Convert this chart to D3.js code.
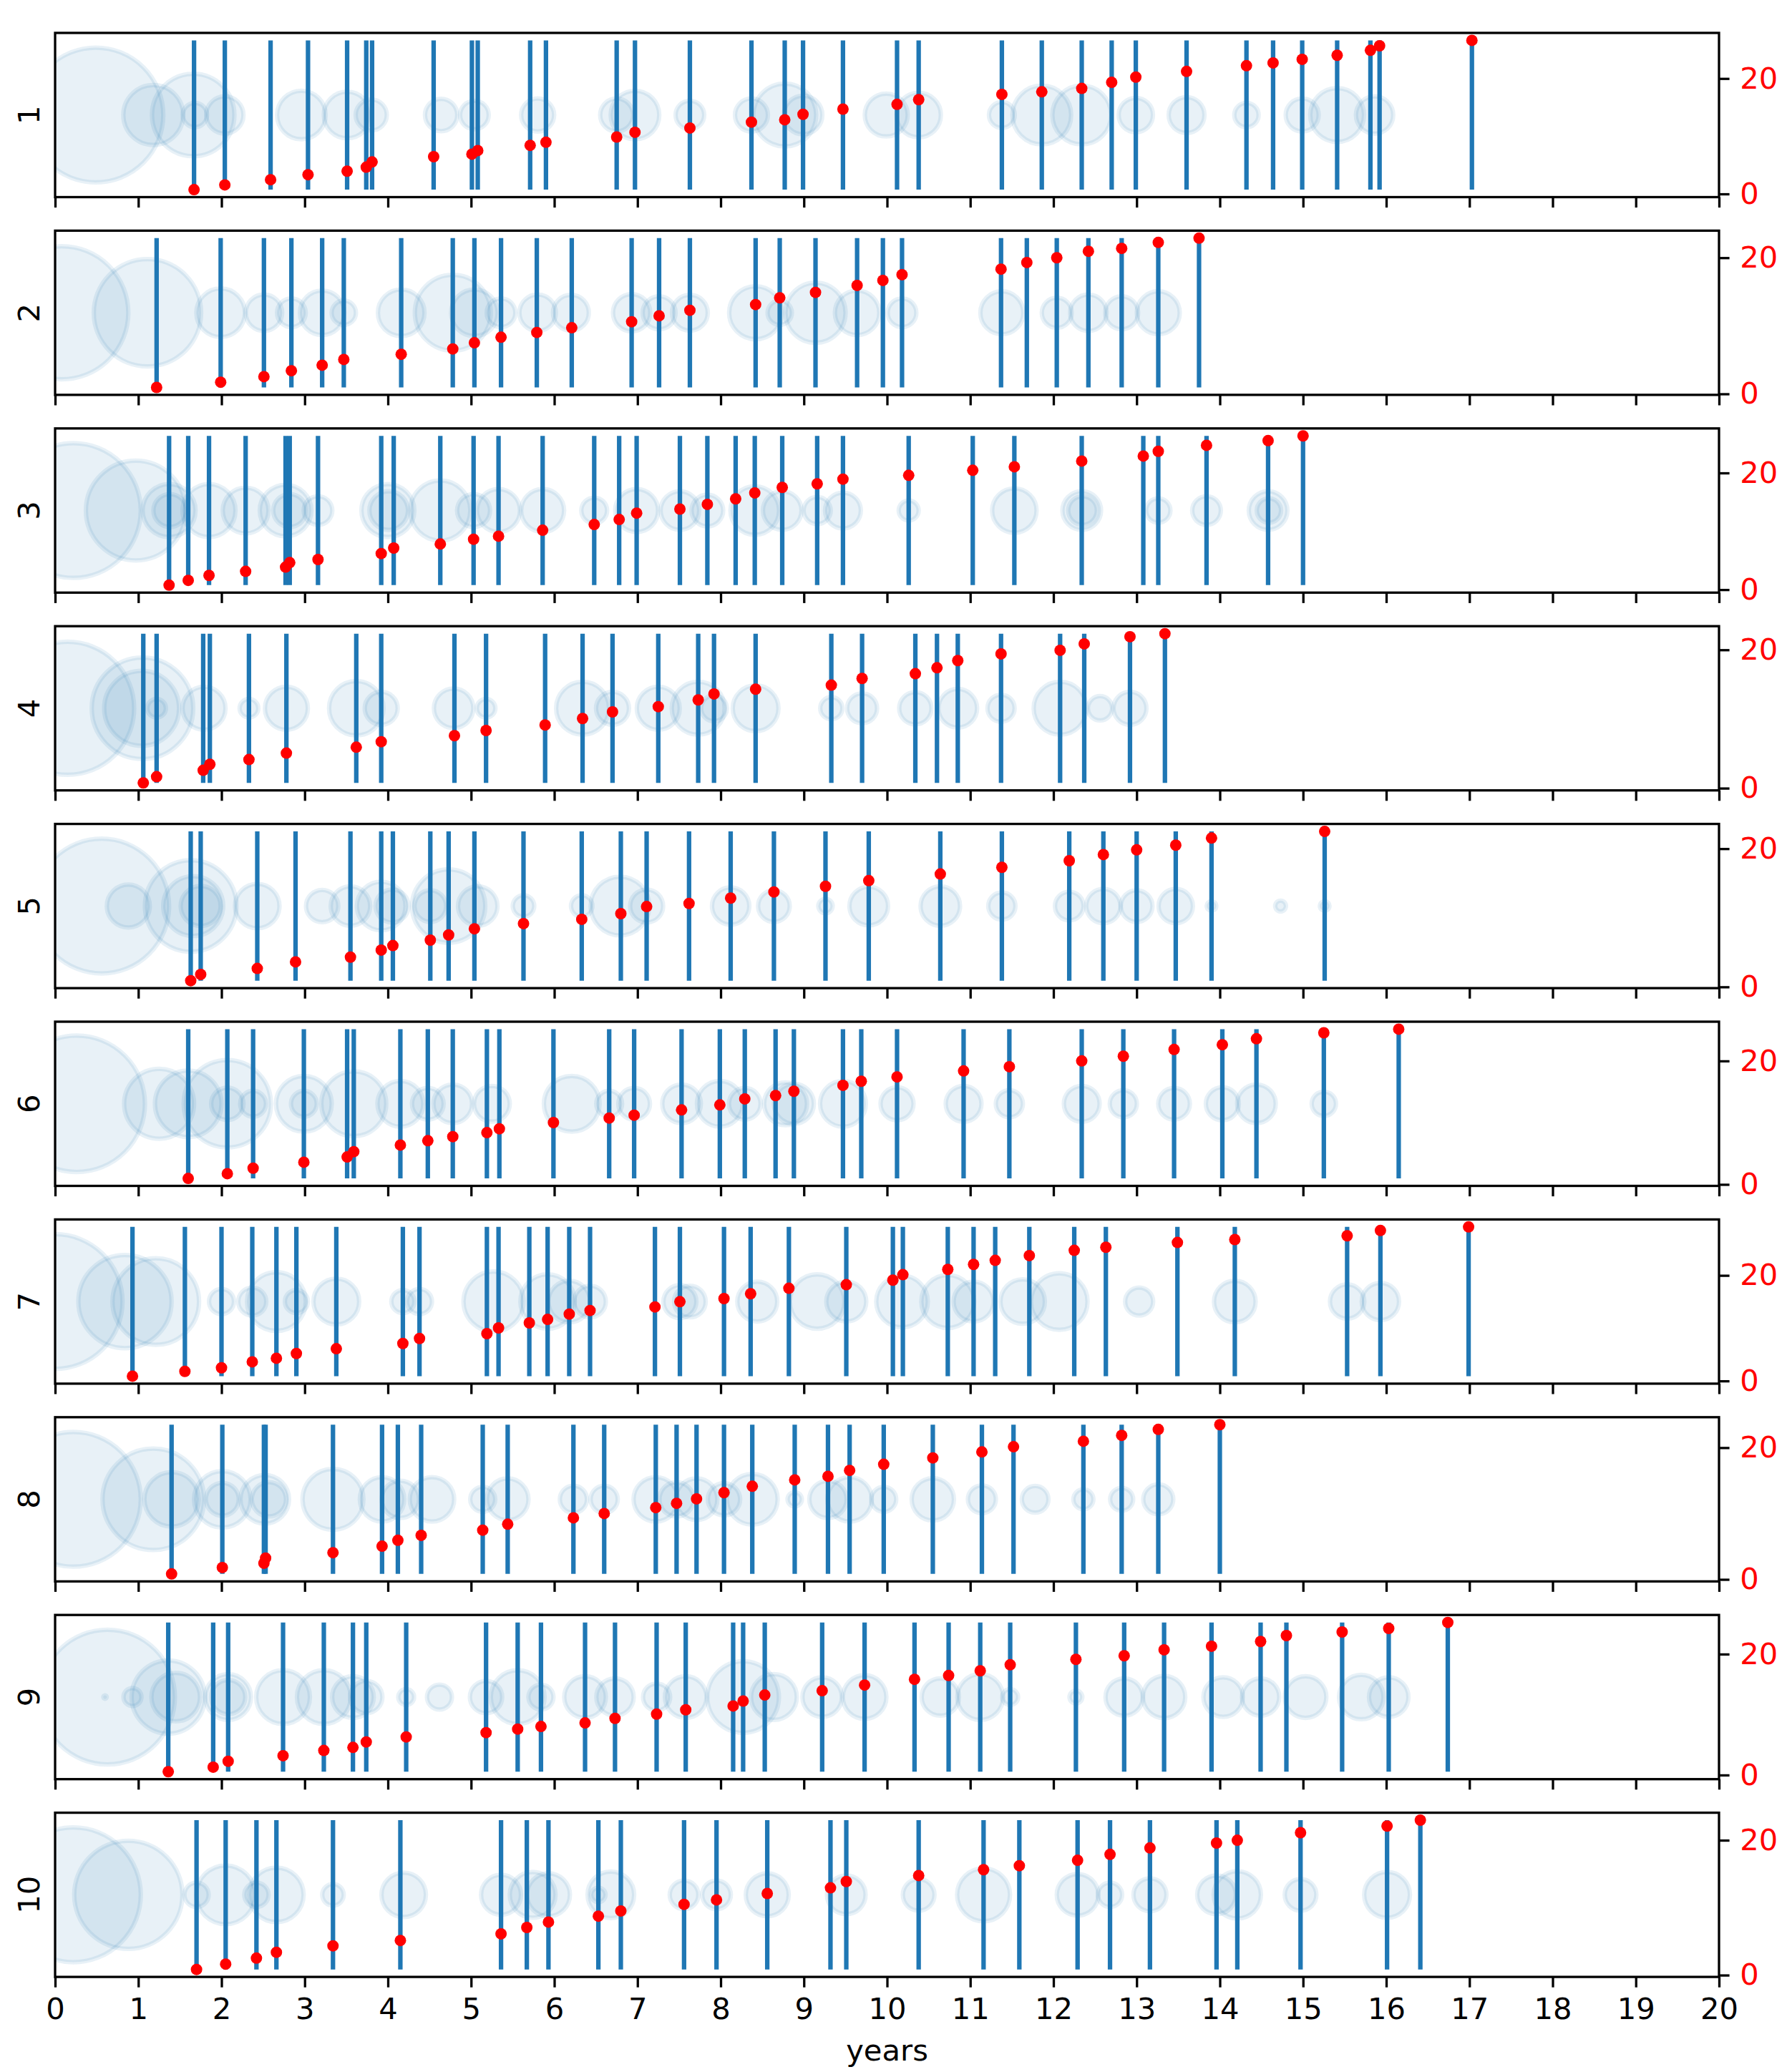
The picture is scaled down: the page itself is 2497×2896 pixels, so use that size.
<!DOCTYPE html>
<html><head><meta charset="utf-8">
<script src="https://cdn.jsdelivr.net/npm/d3@7"></script>
<style>body{margin:0;background:#fff} text{font-family:"DejaVu Sans",sans-serif}</style>
</head><body><svg id="c" width="2497" height="2896"></svg>
<script>
const xTicks = d3.range(0, 21);
const rightTicks = [0, 20];
const panelLabels = ["1","2","3","4","5","6","7","8","9","10"];
const xLabel = "years";

const times1 = [1.67,2.04,2.59,3.04,3.51,3.74,3.81,4.55,5.01,5.08,5.71,5.90,6.75,6.97,7.63,8.37,8.77,8.99,9.47,10.12,10.38,11.38,11.86,12.34,12.70,12.99,13.60,14.32,14.64,14.99,15.41,15.81,15.92,17.03];
const values1 = [0.74,1.56,2.46,3.33,3.94,4.64,5.54,6.45,6.90,7.52,8.42,8.95,9.86,10.68,11.42,12.44,12.85,13.80,14.70,15.52,16.34,17.25,17.70,18.28,19.34,20.25,21.23,22.22,22.71,23.33,24.03,24.89,25.67,26.61];
const bubbles1 = [[0.49,0.81],[1.18,0.36],[1.66,0.495],[1.68,0.146],[2.04,0.224],[2.96,0.292],[3.51,0.28],[3.80,0.187],[4.64,0.194],[5.04,0.172],[5.80,0.198],[6.75,0.198],[6.97,0.292],[7.63,0.172],[8.37,0.198],[8.77,0.378],[8.99,0.232],[9.99,0.258],[10.38,0.267],[11.38,0.155],[11.86,0.353],[12.34,0.353],[12.99,0.206],[13.60,0.215],[14.32,0.146],[14.99,0.198],[15.41,0.323],[15.86,0.224]];

const times2 = [1.22,1.99,2.51,2.84,3.21,3.47,4.16,4.78,5.04,5.36,5.79,6.21,6.93,7.26,7.63,8.42,8.71,9.14,9.64,9.95,10.18,11.37,11.68,12.04,12.42,12.82,13.26,13.75];
const values2 = [0.95,1.72,2.53,3.40,4.21,5.05,5.82,6.60,7.51,8.32,9.02,9.72,10.60,11.47,12.28,13.12,14.11,14.91,15.93,16.67,17.51,18.32,19.30,20.00,20.95,21.37,22.25,22.88];
const bubbles2 = [[0.08,0.80],[1.11,0.645],[1.99,0.292],[2.51,0.219],[2.84,0.172],[3.21,0.267],[3.47,0.146],[4.16,0.28],[4.78,0.456],[5.04,0.28],[5.36,0.172],[5.80,0.219],[6.20,0.215],[6.93,0.224],[7.26,0.198],[7.63,0.215],[8.42,0.318],[8.71,0.146],[9.14,0.361],[9.64,0.267],[10.18,0.172],[11.38,0.258],[12.04,0.18],[12.42,0.219],[12.82,0.198],[13.26,0.258]];

const times3 = [1.37,1.60,1.85,2.29,2.77,2.82,3.16,3.92,4.07,4.63,5.03,5.33,5.86,6.48,6.78,6.99,7.51,7.84,8.18,8.41,8.74,9.16,9.47,10.26,11.03,11.53,12.34,13.08,13.26,13.84,14.58,15.00];
const values3 = [0.77,1.59,2.44,3.14,3.87,4.64,5.17,6.19,7.13,7.82,8.64,9.16,10.18,11.16,12.02,13.12,13.81,14.62,15.56,16.58,17.52,18.13,18.94,19.59,20.45,21.06,22.04,22.89,23.71,24.73,25.54,26.35];
const bubbles3 = [[0.22,0.81],[0.97,0.60],[1.37,0.318],[1.38,0.198],[1.85,0.318],[2.29,0.275],[2.77,0.31],[2.82,0.198],[3.16,0.172],[4.00,0.318],[4.01,0.232],[4.63,0.361],[5.03,0.198],[5.33,0.258],[5.86,0.258],[6.48,0.155],[6.99,0.258],[7.51,0.232],[7.84,0.19],[8.41,0.292],[8.74,0.232],[9.16,0.163],[9.47,0.215],[10.26,0.12],[11.53,0.267],[12.34,0.232],[12.35,0.172],[13.26,0.146],[13.84,0.172],[14.58,0.232],[14.59,0.146]];

const times4 = [1.06,1.22,1.78,1.86,2.33,2.78,3.62,3.92,4.80,5.18,5.89,6.34,6.70,7.25,7.73,7.92,8.42,9.33,9.70,10.34,10.60,10.85,11.37,12.08,12.37,12.92,13.34];
const values4 = [0.76,1.66,2.59,3.45,4.14,5.07,5.93,6.72,7.59,8.34,9.14,10.07,11.03,11.79,12.76,13.62,14.31,14.90,15.86,16.55,17.41,18.45,19.41,19.93,20.86,21.90,22.34];
const bubbles4 = [[0.15,0.80],[1.05,0.61],[1.04,0.45],[1.22,0.112],[1.79,0.258],[2.33,0.112],[2.78,0.258],[3.62,0.327],[3.92,0.198],[4.79,0.237],[5.18,0.112],[6.34,0.318],[6.70,0.198],[7.25,0.258],[7.73,0.318],[7.92,0.155],[8.42,0.275],[9.33,0.133],[9.70,0.18],[10.34,0.194],[10.85,0.232],[11.37,0.163],[12.08,0.318],[12.56,0.146],[12.92,0.198]];

const times5 = [1.63,1.75,2.43,2.89,3.55,3.92,4.06,4.51,4.73,5.04,5.63,6.33,6.80,7.11,7.62,8.12,8.64,9.26,9.78,10.64,11.38,12.19,12.60,13.00,13.47,13.90,15.26];
const values5 = [0.90,1.81,2.67,3.62,4.31,5.33,5.98,6.77,7.52,8.41,9.16,9.78,10.60,11.62,12.07,12.85,13.74,14.56,15.38,16.34,17.30,18.26,19.15,19.83,20.51,21.54,22.50];
const bubbles5 = [[0.56,0.81],[0.88,0.258],[1.63,0.55],[1.66,0.36],[1.75,0.24],[2.43,0.267],[3.21,0.194],[3.55,0.237],[3.92,0.292],[4.05,0.198],[4.51,0.19],[4.73,0.44],[5.08,0.237],[5.63,0.129],[6.33,0.129],[6.79,0.353],[7.11,0.198],[8.12,0.224],[8.64,0.19],[9.26,0.086],[9.78,0.232],[10.64,0.237],[11.38,0.163],[12.19,0.172],[12.60,0.206],[13.00,0.19],[13.47,0.206],[13.90,0.058],[14.73,0.065],[15.26,0.058]];

const times6 = [1.60,2.07,2.38,2.99,3.51,3.59,4.15,4.48,4.78,5.19,5.34,5.99,6.66,6.96,7.53,7.99,8.29,8.66,8.88,9.47,9.69,10.12,10.92,11.47,12.34,12.84,13.45,14.03,14.44,15.25,16.15];
const values6 = [0.97,1.74,2.63,3.60,4.45,5.30,6.38,7.08,7.74,8.39,9.01,10.02,10.75,11.22,12.07,12.88,13.85,14.39,15.09,16.05,16.71,17.41,18.38,19.07,20.00,20.77,21.86,22.63,23.60,24.56,25.15];
const bubbles6 = [[0.26,0.82],[1.25,0.42],[1.60,0.40],[2.07,0.525],[2.07,0.194],[2.38,0.155],[2.99,0.335],[2.99,0.155],[3.59,0.39],[4.15,0.275],[4.48,0.19],[4.78,0.232],[5.25,0.215],[6.21,0.335],[6.66,0.155],[6.96,0.19],[7.53,0.232],[7.99,0.275],[8.29,0.19],[8.78,0.258],[8.88,0.24],[9.47,0.275],[10.12,0.198],[10.92,0.215],[11.47,0.163],[12.34,0.215],[12.84,0.163],[13.45,0.19],[14.03,0.198],[14.44,0.232],[15.25,0.146]];

const times7 = [0.93,1.56,2.00,2.37,2.66,2.90,3.38,4.18,4.38,5.19,5.33,5.70,5.92,6.18,6.43,7.21,7.51,8.04,8.36,8.82,9.51,10.07,10.19,10.73,11.04,11.30,11.71,12.25,12.63,13.49,14.18,15.53,15.93,16.99];
const values7 = [0.90,1.81,2.49,3.62,4.30,5.20,6.11,7.10,8.05,8.96,10.05,11.00,11.67,12.67,13.35,14.03,15.02,15.61,16.52,17.56,18.24,19.10,20.14,21.13,22.08,22.85,23.76,24.75,25.34,26.24,26.79,27.51,28.51,29.19];
const bubbles7 = [[0.0,0.81],[0.84,0.56],[1.21,0.52],[2.00,0.15],[2.37,0.168],[2.66,0.353],[2.90,0.138],[3.38,0.275],[4.18,0.138],[4.38,0.15],[5.27,0.361],[5.92,0.327],[6.18,0.25],[6.43,0.19],[7.51,0.198],[7.63,0.19],[8.44,0.24],[9.16,0.327],[9.51,0.24],[10.18,0.31],[10.73,0.318],[11.04,0.24],[11.63,0.267],[12.07,0.34],[13.03,0.168],[14.18,0.25],[15.53,0.206],[15.93,0.224]];

const times8 = [1.40,2.01,2.51,2.53,3.34,3.93,4.12,4.40,5.14,5.44,6.23,6.60,7.22,7.47,7.71,8.04,8.38,8.89,9.29,9.55,9.96,10.55,11.14,11.52,12.36,12.82,13.26,14.00];
const values8 = [0.83,1.80,2.45,3.24,4.06,5.04,5.94,6.69,7.48,8.38,9.35,10.00,10.90,11.55,12.23,13.17,14.14,15.11,15.65,16.55,17.48,18.45,19.35,20.14,20.97,21.87,22.77,23.49];
const bubbles8 = [[0.22,0.81],[1.18,0.61],[1.40,0.327],[2.01,0.34],[2.01,0.198],[2.52,0.292],[2.57,0.206],[3.34,0.366],[3.93,0.267],[4.15,0.224],[4.53,0.267],[5.14,0.15],[5.44,0.25],[6.23,0.163],[6.60,0.163],[7.22,0.267],[7.47,0.206],[7.71,0.25],[8.04,0.194],[8.38,0.305],[8.89,0.086],[9.29,0.224],[9.55,0.267],[9.96,0.15],[10.55,0.254],[11.14,0.168],[11.78,0.16],[12.36,0.12],[12.82,0.138],[13.26,0.18]];

const times9 = [1.36,1.90,2.08,2.74,3.23,3.58,3.74,4.22,5.18,5.56,5.84,6.37,6.73,7.23,7.58,8.15,8.27,8.53,9.22,9.73,10.33,10.74,11.12,11.48,12.27,12.85,13.33,13.90,14.49,14.80,15.47,16.03,16.74];
const values9 = [0.55,1.30,2.28,3.19,4.06,4.57,5.47,6.30,7.01,7.60,8.03,8.62,9.37,10.08,10.79,11.42,12.24,13.23,13.94,14.88,15.83,16.46,17.24,18.23,19.13,19.72,20.71,21.30,22.09,23.07,23.66,24.25,25.24];
const bubbles9 = [[0.63,0.81],[0.60,0.02],[0.93,0.108],[1.36,0.44],[1.45,0.292],[2.08,0.275],[2.08,0.206],[2.74,0.323],[3.23,0.323],[3.58,0.25],[3.74,0.194],[4.22,0.095],[4.62,0.15],[5.18,0.194],[5.56,0.323],[5.84,0.15],[6.37,0.25],[6.73,0.224],[7.23,0.163],[7.58,0.25],[8.27,0.43],[8.64,0.275],[9.22,0.237],[9.73,0.262],[10.64,0.224],[11.12,0.275],[11.48,0.095],[12.27,0.077],[12.85,0.224],[13.33,0.254],[14.04,0.237],[14.49,0.224],[15.03,0.25],[15.70,0.267],[16.03,0.237]];

const times10 = [1.70,2.05,2.42,2.66,3.34,4.15,5.36,5.67,5.93,6.53,6.80,7.56,7.95,8.56,9.32,9.51,10.38,11.16,11.59,12.29,12.68,13.16,13.96,14.21,14.97,16.01,16.41];
const values10 = [0.84,1.64,2.52,3.39,4.34,5.14,6.12,7.06,7.87,8.74,9.51,10.49,11.15,12.10,12.94,13.88,14.76,15.63,16.22,17.03,17.90,18.85,19.58,20.00,21.12,22.10,22.97];
const bubbles10 = [[0.22,0.81],[0.88,0.65],[1.70,0.146],[2.05,0.353],[2.42,0.146],[2.66,0.327],[3.34,0.129],[4.19,0.267],[5.36,0.24],[5.74,0.275],[5.93,0.258],[6.53,0.086],[6.68,0.28],[7.56,0.172],[7.95,0.172],[8.56,0.258],[9.51,0.232],[10.38,0.19],[11.16,0.318],[12.29,0.25],[12.68,0.146],[13.16,0.198],[13.96,0.232],[14.21,0.284],[14.97,0.19],[16.01,0.275]];

const panels = [
  {times:times1, values:values1, bubbles:bubbles1},
  {times:times2, values:values2, bubbles:bubbles2},
  {times:times3, values:values3, bubbles:bubbles3},
  {times:times4, values:values4, bubbles:bubbles4},
  {times:times5, values:values5, bubbles:bubbles5},
  {times:times6, values:values6, bubbles:bubbles6},
  {times:times7, values:values7, bubbles:bubbles7},
  {times:times8, values:values8, bubbles:bubbles8},
  {times:times9, values:values9, bubbles:bubbles9},
  {times:times10, values:values10, bubbles:bubbles10}
];

const X0 = 77, X1 = 2402, TOP = 46, PH = 229.5, STEP = 276.4;
const FS = 41.7, TICK = 14.6, LW = 3.3;
const BLUE = "#1f77b4";
const svg = d3.select("#c");
const defs = svg.append("defs");
const x = d3.scaleLinear().domain([0, 20]).range([X0, X1]);

panels.forEach((p, i) => {
  const top = TOP + i * STEP, bot = top + PH;
  const yL = d3.scaleLinear().domain([-0.05, 1.05]).range([bot, top]);
  const [vmin, vmax] = d3.extent(p.values);
  const m = 0.05 * (vmax - vmin);
  const yR = d3.scaleLinear().domain([vmin - m, vmax + m]).range([bot, top]);
  const cid = "clip" + i;
  defs.append("clipPath").attr("id", cid).append("rect")
    .attr("x", X0).attr("y", top).attr("width", X1 - X0).attr("height", PH);
  const g = svg.append("g");
  const pg = g.append("g").attr("clip-path", `url(#${cid})`);
  pg.selectAll("circle.b").data(p.bubbles).join("circle").attr("class", "b")
    .attr("cx", d => x(d[0])).attr("cy", yL(0.5)).attr("r", d => x(d[1]) - x(0))
    .attr("fill", BLUE).attr("fill-opacity", 0.1)
    .attr("stroke", BLUE).attr("stroke-opacity", 0.1).attr("stroke-width", 6.25);
  pg.selectAll("line.v").data(p.times).join("line").attr("class", "v")
    .attr("x1", d => x(d)).attr("x2", d => x(d))
    .attr("y1", yL(0)).attr("y2", yL(1))
    .attr("stroke", BLUE).attr("stroke-width", 6.25);
  // spines
  g.append("rect").attr("x", X0).attr("y", top).attr("width", X1 - X0).attr("height", PH)
    .attr("fill", "none").attr("stroke", "#000").attr("stroke-width", LW);
  // red dots (twin axis)
  g.append("g").selectAll("circle.d").data(p.times.map((t, k) => [t, p.values[k]])).join("circle")
    .attr("class", "d").attr("cx", d => x(d[0])).attr("cy", d => yR(d[1])).attr("r", 8).attr("fill", "red");
  // bottom axis
  const xa = d3.axisBottom(x).tickValues(xTicks).tickSize(TICK).tickPadding(14.6)
    .tickFormat(i === panels.length - 1 ? d3.format("d") : () => "");
  const xg = g.append("g").attr("transform", `translate(0,${bot})`).call(xa);
  xg.select(".domain").remove();
  xg.selectAll("line").attr("stroke-width", LW);
  xg.selectAll("text").attr("font-size", FS).attr("font-family", "DejaVu Sans").attr("fill", "#000");
  // right axis
  const ra = d3.axisRight(yR).tickValues(rightTicks).tickSize(TICK).tickPadding(14.6).tickFormat(d3.format("d"));
  const rg = g.append("g").attr("transform", `translate(${X1},0)`).call(ra);
  rg.select(".domain").remove();
  rg.selectAll("line").attr("stroke-width", LW);
  rg.selectAll("text").attr("font-size", FS).attr("font-family", "DejaVu Sans").attr("fill", "red");
  // y label
  g.append("text").attr("transform", `translate(55,${(top + bot) / 2}) rotate(-90)`)
    .attr("text-anchor", "middle").attr("font-size", FS).text(panelLabels[i]);
});

svg.append("text").attr("x", (X0 + X1) / 2).attr("y", 2880).attr("text-anchor", "middle")
  .attr("font-size", FS).text(xLabel);
</script></body></html>
